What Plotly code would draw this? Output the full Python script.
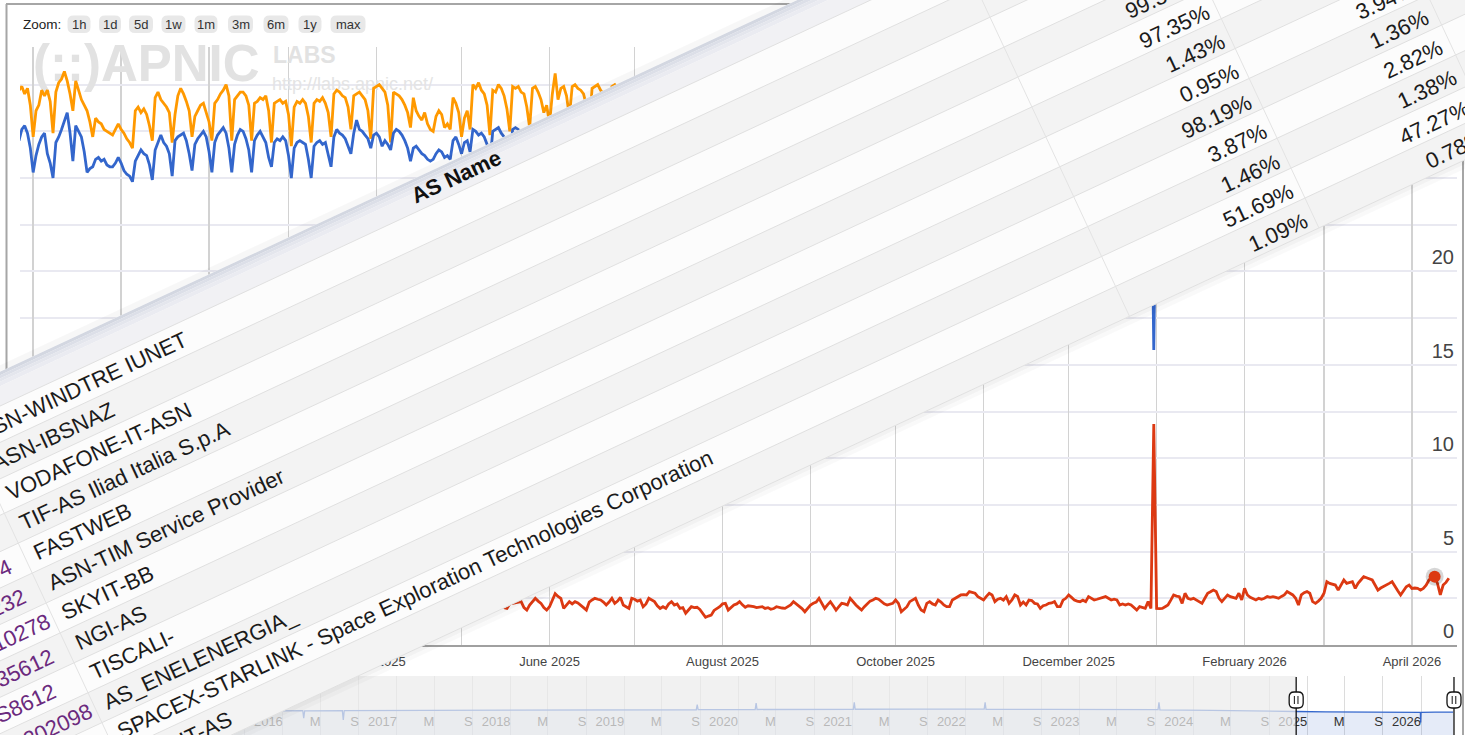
import math
import pandas as pd
import plotly.graph_objects as go

W, H = 1465, 735
FONT = "Liberation Sans, Arial, Helvetica, sans-serif"

# ======================= DATA =======================
# red series, daily from 2025-05-01
red_start = "2025-05-01"
red_vals = [
    # May
    2.0, 2.1, 1.9, 2.0, 2.2, 2.1, 2.0, 1.9, 2.1, 2.2, 2.0, 1.9, 2.1, 2.0, 2.1, 2.0,
    1.96, 2.2, 2.23, 2.25, 2.3, 2.32, 2.0, 1.87, 2.14, 2.3, 2.5, 2.35, 2.23, 2.0, 1.87,
    # Jun
    2.05, 2.4, 2.75, 2.6, 2.5, 1.96, 2.15, 2.32, 2.2, 2.32,
    2.25, 2.14, 2.0, 1.87, 2.3, 2.41, 2.5, 2.45, 2.41, 2.3,
    2.14, 2.3, 2.5, 2.23, 2.35, 2.55, 2.14, 2.05, 1.96, 2.5,
    # Jul
    2.45, 2.35, 2.41, 2.05, 2.2, 2.5, 2.4, 2.32, 2.1, 1.96,
    2.05, 1.96, 2.2, 2.32, 2.14, 2.2, 1.96, 2.0, 1.7, 1.85,
    2.05, 2.0, 2.02, 1.9, 1.7, 1.48, 1.55, 1.6, 1.85, 1.95, 2.05,
    # Aug
    2.2, 2.23, 1.87, 2.0, 2.14, 2.2, 2.32, 2.15, 2.02, 2.1,
    2.09, 2.05, 2.0, 2.02, 2.05, 1.96, 2.0, 1.91, 1.95, 2.05,
    2.0, 1.98, 1.96, 2.05, 2.14, 2.32, 2.2, 2.05, 1.95, 1.78, 1.95,
    # Sep
    2.14, 2.23, 2.3, 2.5, 2.2, 1.96, 2.15, 2.32, 2.1, 1.87,
    2.05, 2.23, 2.2, 2.14, 2.5, 2.3, 2.14, 2.0, 1.87, 2.05,
    2.23, 2.35, 2.41, 2.5, 2.45, 2.32, 2.2, 2.14, 2.2, 2.23,
    # Oct
    2.41, 2.23, 1.78, 1.9, 2.05, 2.32, 2.4, 2.5, 2.14, 1.87,
    1.78, 2.23, 2.32, 2.2, 2.14, 2.41, 2.3, 2.14, 2.05, 2.05,
    2.41, 2.5, 2.55, 2.68, 2.7, 2.68, 2.86, 2.8, 2.77, 2.59, 2.5,
    # Nov
    2.41, 2.6, 2.77, 2.68, 2.32, 2.45, 2.5, 2.4, 2.59, 2.23,
    2.41, 2.68, 2.6, 2.14, 2.3, 2.14, 2.41, 2.38, 2.23, 2.2,
    1.96, 2.1, 2.14, 2.23, 2.25, 2.32, 2.05, 2.05, 2.4, 2.5,
    # Dec
    2.68, 2.55, 2.41, 2.35, 2.32, 2.4, 2.32, 2.59, 2.5, 2.41,
    2.45, 2.5, 2.55, 2.59, 2.5, 2.41, 2.45, 2.41, 2.14, 2.2,
    2.14, 2.2, 2.14, 2.0, 1.87, 2.05, 2.0, 1.96, 2.32, 1.96, 11.83,
    # Jan 2026
    1.96, 1.95, 1.96, 2.05, 2.14, 2.4, 2.68, 2.62, 2.59, 2.23,
    2.77, 2.5, 2.45, 2.5, 2.41, 2.3, 2.23, 2.5, 2.77, 2.85,
    2.94, 2.86, 2.5, 2.32, 2.5, 2.68, 2.59, 2.55, 2.5, 2.77, 2.41,
    # Feb
    3.03, 2.68, 2.55, 2.5, 2.41, 2.5, 2.45, 2.5, 2.59, 2.55,
    2.59, 2.55, 2.5, 2.6, 2.68, 2.86, 2.75, 2.68, 2.5, 2.14,
    2.68, 2.8, 2.86, 2.77, 2.32, 2.23, 2.35, 2.5,
    # Mar
    2.77, 3.39, 3.3, 3.25, 3.21, 2.94, 3.2, 3.48, 3.3, 3.35,
    3.39, 3.03, 3.3, 3.48, 3.66, 3.6, 3.55, 3.48, 3.21, 2.94,
    3.05, 3.12, 3.2, 3.3, 3.39, 3.12, 2.9, 2.68, 2.9, 3.12, 3.21,
    # Apr
    3.03, 3.05, 3.03, 2.94, 3.03, 3.2, 3.48, 3.6, 3.66, 3.3,
    2.68, 3.21, 3.35, 3.57,
]

# orange series: daily weeks (Mon..Sun) from 2024-11-25, then sparse points
orange_start = "2024-11-25"
orange_weeks = [
    [29.6, 29.7, 29.9, 29.5, 29.8, 28.9, 27.2],
    [28.6, 28.9, 29.7, 29.4, 29.7, 29.1, 27.4],
    [29.6, 30.1, 30.3, 30.7, 30.2, 29.5, 28.6],
    [30.2, 29.7, 29.2, 28.9, 28.6, 28.0, 27.2],
    [28.2, 28.0, 27.9, 27.6, 27.5, 27.4, 27.3],
    [27.6, 27.9, 27.6, 27.4, 27.1, 26.9, 26.6],
    [28.6, 28.8, 28.5, 28.7, 28.4, 27.8, 27.0],
    [29.3, 29.6, 29.2, 29.0, 28.8, 28.5, 26.9],
    [28.4, 29.4, 29.8, 29.5, 29.1, 28.6, 27.2],
    [28.3, 28.6, 28.9, 29.0, 28.5, 28.0, 27.0],
    [29.0, 29.2, 29.5, 29.7, 30.0, 29.4, 27.0],
    [29.2, 29.4, 29.6, 29.6, 29.4, 28.9, 27.0],
    [29.0, 29.1, 29.3, 29.2, 29.4, 28.6, 26.9],
    [29.0, 29.1, 29.2, 29.0, 29.1, 28.4, 26.7],
    [28.8, 29.1, 29.0, 29.2, 29.0, 28.3, 26.9],
    [29.0, 29.2, 29.1, 29.3, 29.0, 28.5, 27.2],
    [29.5, 29.7, 29.6, 29.4, 29.3, 28.8, 27.6],
    [29.4, 29.5, 29.6, 29.4, 29.2, 28.6, 27.1],
    [29.8, 29.9, 30.0, 29.8, 29.6, 28.9, 26.9],
    [29.6, 29.5, 29.4, 29.2, 28.9, 28.5, 27.7],
    [29.3, 28.6, 28.3, 28.1, 28.5, 27.9, 27.6],
    [27.5, 28.3, 28.6, 28.4, 27.7, 27.9, 27.6],
    [29.3, 29.0, 28.5, 27.2, 28.2, 28.6, 27.6],
    [30.0, 29.8, 30.1, 29.7, 29.5, 28.9, 27.3],
    [29.7, 29.6, 30.0, 29.8, 29.4, 28.7, 27.5],
    [29.9, 29.8, 29.9, 29.6, 29.5, 28.8, 27.7],
    [29.8, 29.9, 29.6, 29.2, 28.5, 28.9, 27.9],
    [29.5, 30.6, 29.2, 29.8, 29.9, 29.4, 28.3],
    [29.9, 30.0, 29.8, 29.7, 29.5, 28.9, 27.6],
    [29.8, 29.9, 30.0, 29.7, 29.5, 28.8, 27.5],
    [29.9, 30.0, 29.8, 29.6, 29.4, 28.7, 27.4],
]
orange_tail_dates = ["2025-07-15", "2025-08-15", "2025-09-15", "2025-10-15", "2025-11-15",
                     "2025-12-15", "2026-01-15", "2026-02-15", "2026-03-15", "2026-04-14"]
orange_tail_vals = [29.5, 28.8, 29.6, 30.0, 30.2, 30.3, 30.1, 30.4, 30.6, 30.6]

# blue series
blue_start = "2024-11-25"
blue_weeks = [
    [27.2, 27.0, 27.6, 27.8, 27.4, 26.6, 25.3],
    [26.2, 26.8, 27.2, 27.4, 26.3, 25.8, 25.0],
    [26.9, 27.2, 27.6, 28.0, 28.5, 27.4, 25.9],
    [27.8, 27.5, 27.2, 26.4, 25.3, 25.5, 25.6],
    [26.0, 26.1, 25.9, 26.0, 25.7, 25.6, 25.6],
    [25.8, 26.1, 25.8, 25.4, 25.2, 25.1, 24.8],
    [25.9, 26.2, 26.5, 26.3, 26.2, 25.7, 24.9],
    [26.5, 26.9, 27.3, 26.9, 26.7, 26.3, 25.1],
    [27.0, 27.2, 27.3, 27.4, 27.0, 26.3, 25.4],
    [26.8, 27.1, 27.3, 27.5, 27.2, 26.4, 25.3],
    [26.9, 27.3, 27.5, 27.7, 27.4, 26.6, 25.3],
    [26.8, 27.3, 27.6, 27.5, 27.1, 26.5, 25.3],
    [27.0, 27.3, 27.5, 27.2, 26.9, 26.1, 25.6],
    [26.9, 27.1, 27.0, 27.2, 27.0, 26.2, 25.0],
    [26.6, 26.9, 27.0, 26.9, 26.8, 26.0, 25.0],
    [26.7, 26.9, 27.0, 26.8, 26.9, 26.2, 25.6],
    [27.2, 27.6, 27.4, 27.3, 27.1, 26.7, 26.3],
    [27.4, 28.1, 27.6, 27.5, 27.3, 27.1, 26.6],
    [27.3, 27.4, 27.2, 26.7, 27.0, 26.8, 26.5],
    [27.4, 27.6, 27.5, 27.3, 27.0, 26.6, 25.9],
    [26.6, 26.7, 26.5, 26.3, 26.2, 26.0, 25.9],
    [26.0, 26.3, 26.5, 26.4, 26.1, 26.2, 26.0],
    [27.0, 27.2, 26.8, 26.3, 26.9, 27.0, 26.4],
    [27.6, 27.5, 27.3, 27.4, 27.2, 26.8, 25.8],
    [27.5, 27.6, 27.7, 27.4, 27.2, 26.7, 25.9],
    [27.6, 27.7, 27.6, 27.4, 27.3, 26.8, 26.0],
    [27.7, 27.8, 27.5, 27.3, 27.0, 26.9, 26.2],
]
blue_tail_dates = ["2025-06-15", "2025-07-15", "2025-08-15", "2025-09-15", "2025-10-15",
                   "2025-11-15", "2025-12-15", "2025-12-30", "2025-12-31", "2026-01-01",
                   "2026-02-01", "2026-03-01", "2026-04-14"]
blue_tail_vals = [27.5, 27.3, 27.0, 27.6, 27.9, 28.0, 28.1, 27.8, 15.8, 27.6, 28.0, 28.3, 28.5]

marker_date = "2026-04-09"
marker_val = 3.66

# range navigator series
nav_dates = ["2013-09-01", "2014-01-01", "2014-06-01", "2015-01-01", "2015-06-01", "2016-01-01",
             "2016-03-05", "2016-03-08", "2016-03-11",
             "2016-07-10", "2016-07-13", "2016-07-16",
             "2016-12-01", "2017-06-01", "2018-01-01", "2018-06-01", "2019-01-01",
             "2019-08-20", "2019-08-23", "2019-08-26",
             "2020-02-25", "2020-02-28", "2020-03-02",
             "2020-09-01",
             "2021-01-05", "2021-01-08", "2021-01-11",
             "2021-08-01",
             "2022-03-01", "2022-03-04", "2022-03-07",
             "2022-10-01", "2023-04-01",
             "2023-09-10", "2023-09-13", "2023-09-16",
             "2024-03-01", "2024-09-01", "2024-11-26", "2025-03-01", "2025-06-01", "2025-09-01",
             "2025-12-30", "2025-12-31", "2026-01-01", "2026-02-15", "2026-04-14"]
nav_vals = [29, 29.5, 29.8, 30, 30.2, 30.5,
            30.4, 21, 30.3,
            30.5, 19, 30.6,
            30.8, 31, 31.2, 31.5, 31.6,
            31.7, 38, 31.8,
            31.9, 40, 32,
            32.2,
            32.3, 41, 32.3,
            32.5,
            32.4, 41, 32.3,
            32.2, 32,
            31.8, 41, 31.5,
            31, 30.5, 29.5, 29, 28.6, 28.4,
            28.3, 15.8, 28.4, 28.6, 28.8]

y_tick_vals = [0, 5, 10, 15, 20]
zoom_labels = ["1h", "1d", "5d", "1w", "1m", "3m", "6m", "1y", "max"]

as_numbers = ["AS1267", "AS3269", "AS30722", "AS29447", "AS12874", "AS16232",
              "AS210278", "AS35612", "AS8612", "AS202098", "AS14593", "AS8968"]
as_names = ["ASN-WINDTRE IUNET", "ASN-IBSNAZ", "VODAFONE-IT-ASN", "TIF-AS Iliad Italia S.p.A",
            "FASTWEB", "ASN-TIM Service Provider", "SKYIT-BB", "NGI-AS", "TISCALI-",
            "AS_ENELENERGIA_", "SPACEX-STARLINK - Space Exploration Technologies Corporation",
            "ASN-IT-AS"]
pct_col1 = ["", "", "", "99.35%", "97.35%", "1.43%", "0.95%", "98.19%", "3.87%", "1.46%", "51.69%", "1.09%"]
pct_col2 = ["", "", "", "", "", "", "3.94%", "1.36%", "2.82%", "1.38%", "47.27%", "0.78%"]

# ======================= GEOMETRY =======================
PLOT_L, PLOT_R, PLOT_T, PLOT_B = 20, 1457, 47, 645
REF_DATE = pd.Timestamp("2025-06-01")
REF_X = 549.5
PX_DAY = 2.837
PX_UNIT = 18.68


def px_to_date(px):
    return REF_DATE + pd.Timedelta(days=(px - REF_X) / PX_DAY)


def py_to_val(py):
    return (PLOT_B - py) / PX_UNIT


def ts(t):
    return pd.Timestamp(t).strftime("%Y-%m-%d %H:%M:%S")


NAV_L, NAV_R, NAV_T, NAV_B = 20, 1455, 676, 735
NAV_REF = pd.Timestamp("2026-01-01")
NAV_REF_X = 1421.0
NAV_PX_DAY = 113.8 / 365.25


def nav_px_to_date(px):
    return NAV_REF + pd.Timedelta(days=(px - NAV_REF_X) / NAV_PX_DAY)


def nav_date_to_px(d):
    return NAV_REF_X + (pd.Timestamp(d) - NAV_REF) / pd.Timedelta(days=1) * NAV_PX_DAY


def P(x, y):
    return f"{x / W:.5f},{1 - y / H:.5f}"


def poly_path(pts):
    return "M " + " L ".join(P(x, y) for x, y in pts) + " Z"


def rrect_path(x0, y0, x1, y1, r):
    return (f"M {P(x0 + r, y0)} L {P(x1 - r, y0)} Q {P(x1, y0)} {P(x1, y0 + r)} "
            f"L {P(x1, y1 - r)} Q {P(x1, y1)} {P(x1 - r, y1)} L {P(x0 + r, y1)} "
            f"Q {P(x0, y1)} {P(x0, y1 - r)} L {P(x0, y0 + r)} Q {P(x0, y0)} {P(x0 + r, y0)} Z")


def pline(x0, y0, x1, y1, color, width):
    return dict(type="line", xref="paper", yref="paper", x0=x0 / W, y0=1 - y0 / H,
                x1=x1 / W, y1=1 - y1 / H, line=dict(color=color, width=width), layer="above")


def pfill(path, color, line_color=None, line_width=0):
    return dict(type="path", xref="paper", yref="paper", path=path, fillcolor=color,
                line=dict(color=line_color or color, width=line_width), layer="above")


def ann(x, y, text, **kw):
    d = dict(x=x / W, y=1 - y / H, xref="paper", yref="paper", text=text, showarrow=False)
    d.update(kw)
    return d


# ======================= TRACES =======================
def flat(weeks):
    return [v for w in weeks for v in w]


orange_daily = flat(orange_weeks)
blue_daily = flat(blue_weeks)
orange_x = [d.strftime("%Y-%m-%d") for d in pd.date_range(orange_start, periods=len(orange_daily), freq="D")] + orange_tail_dates
orange_y = orange_daily + orange_tail_vals
blue_x = [d.strftime("%Y-%m-%d") for d in pd.date_range(blue_start, periods=len(blue_daily), freq="D")] + blue_tail_dates
blue_y = blue_daily + blue_tail_vals
red_x = [d.strftime("%Y-%m-%d") for d in pd.date_range(red_start, periods=len(red_vals), freq="D")]

fig = go.Figure()

# watermark (below the lines)
wm_px = [(33, 68), (273, 57), (272, 85)]
fig.add_trace(go.Scatter(
    x=[ts(px_to_date(x)) for x, _ in wm_px], y=[py_to_val(y) for _, y in wm_px],
    mode="text", text=["<b>(::)APNIC</b>", "<b>LABS</b>", "http://labs.apnic.net/"],
    textposition="middle right", cliponaxis=False,
    textfont=dict(size=[51, 23, 18], color=["#e2e2e2", "#e2e2e2", "#e4e4e4"], family=FONT),
    hoverinfo="skip", xaxis="x", yaxis="y"))

fig.add_trace(go.Scatter(x=orange_x, y=orange_y, mode="lines",
                         line=dict(color="#ff9900", width=2.8), hoverinfo="skip"))
fig.add_trace(go.Scatter(x=blue_x, y=blue_y, mode="lines",
                         line=dict(color="#3366cc", width=2.8), hoverinfo="skip"))
fig.add_trace(go.Scatter(x=red_x, y=red_vals, mode="lines",
                         line=dict(color="#dc3912", width=2.8), hoverinfo="skip"))
fig.add_trace(go.Scatter(x=[marker_date], y=[marker_val], mode="markers",
                         marker=dict(size=18, color="rgba(0,0,0,0.16)"), hoverinfo="skip"))
fig.add_trace(go.Scatter(x=[marker_date], y=[marker_val], mode="markers",
                         marker=dict(size=12, color="#dc3912"), hoverinfo="skip"))

# navigator
fig.add_trace(go.Scatter(x=nav_dates, y=nav_vals, mode="lines", xaxis="x2", yaxis="y2",
                         line=dict(color="#3366cc", width=1.3), fill="tozeroy",
                         fillcolor="rgba(51,102,204,0.13)", hoverinfo="skip"))

nav_tick_dates, nav_tick_text = [], []
for yr in range(2014, 2027):
    for m, lab in ((1, str(yr)), (5, "M"), (9, "S")):
        d = pd.Timestamp(yr, m, 1)
        if d <= pd.Timestamp("2026-04-30"):
            nav_tick_dates.append(d.strftime("%Y-%m-%d"))
            nav_tick_text.append(lab)

main_start = px_to_date(PLOT_L)
main_end = px_to_date(PLOT_R)

# ======================= SHAPES =======================
shapes = []
hl = nav_date_to_px(main_start)
hr = nav_date_to_px(main_end)
# unselected navigator mask
shapes.append(pfill(poly_path([(NAV_L, NAV_T), (hl, NAV_T), (hl, NAV_B), (NAV_L, NAV_B)]),
                    "rgba(236,236,236,0.72)"))
# handles
for hx in (hl, hr):
    shapes.append(pline(hx, 677, hx, 735, "#111111", 1.3))
    shapes.append(pfill(rrect_path(hx - 7, 692, hx + 7, 708, 5), "#ffffff", "#111111", 1.3))
    shapes.append(pline(hx - 1.8, 696, hx - 1.8, 704, "#111111", 1))
    shapes.append(pline(hx + 1.8, 696, hx + 1.8, 704, "#111111", 1))

# chart container border
shapes.append(pline(6, 4, 1463, 4, "#a6a6a6", 2))
shapes.append(pline(6.5, 4, 6.5, 735, "#a6a6a6", 2))
shapes.append(pline(1463, 4, 1463, 735, "#a6a6a6", 2))

# zoom pills
pill_cx = [79, 110, 141, 173.5, 206, 240.5, 276, 310, 348]
pill_w = [23, 22, 24, 24, 23, 25, 25, 23, 35]
for cx, pw in zip(pill_cx, pill_w):
    shapes.append(pfill(rrect_path(cx - pw / 2, 15.5, cx + pw / 2, 33, 6), "#e8e8e8"))

# ---- rotated table ----
ANG = math.radians(25)
C, S = math.cos(ANG), math.sin(ANG)


def qp(q, p):
    return (q * C + p * S, -q * S + p * C)


def band(q0, q1, p0, p1):
    return poly_path([qp(q0, p0), qp(q1, p0), qp(q1, p1), qp(q0, p1)])


T_TOP, HDR_H, ROW_H = 337, 31, 33
ROW0 = T_TOP + HDR_H
N_ROWS = len(as_names)
T_BOT = ROW0 + ROW_H * N_ROWS
Q_MIN, Q_MAX = -900, 2700

# faint outer shadows
shapes.append(pfill(band(Q_MIN, Q_MAX, T_TOP - 6, T_TOP), "rgba(0,0,0,0.03)"))
shapes.append(pfill(band(Q_MIN, Q_MAX, T_BOT, T_BOT + 4), "rgba(0,0,0,0.05)"))
shapes.append(pfill(band(Q_MIN, Q_MAX, T_BOT + 4, T_BOT + 8), "rgba(0,0,0,0.025)"))
# body
shapes.append(pfill(band(Q_MIN, Q_MAX, T_TOP, T_BOT), "#fcfcfc"))
for k in range(N_ROWS):
    if k % 2 == 1:
        shapes.append(pfill(band(Q_MIN, Q_MAX, ROW0 + k * ROW_H, ROW0 + (k + 1) * ROW_H), "#f3f3f3"))
# header gradient
hdr = [(0, 3, "#d3d7e1"), (3, 6, "#dcdfe8"), (6, 9, "#e4e6ed"), (9, 13, "#eaebf1"), (13, HDR_H, "#f1f1f4")]
for a, b, col in hdr:
    shapes.append(pfill(band(Q_MIN, Q_MAX, T_TOP + a, T_TOP + b), col))
# row lines
for k in range(N_ROWS + 1):
    p = ROW0 + k * ROW_H
    (x0, y0), (x1, y1) = qp(Q_MIN, p), qp(Q_MAX, p)
    shapes.append(pline(x0, y0, x1, y1, "#e0e0e0", 1))
# column lines
for q in (-330, -213, 890, 1099, 1296, 1492):
    (x0, y0), (x1, y1) = qp(q, T_TOP + 8), qp(q, T_BOT)
    shapes.append(pline(x0, y0, x1, y1, "#e3e3e3", 1))

# ======================= ANNOTATIONS =======================
anns = []
anns.append(ann(21, 24.5, "Zoom:", xanchor="left", yanchor="middle",
                font=dict(size=13.5, color="#222222", family=FONT)))
for cx, lab in zip(pill_cx, zoom_labels):
    anns.append(ann(cx, 24.5, lab, xanchor="center", yanchor="middle",
                    font=dict(size=13, color="#333333", family=FONT)))

FS = 22
HB = 25.5
Q_NUM_START, Q_NAME, Q_HDR, Q_P1, Q_P2 = -320, -202, 339, 1091, 1286


def left_text(q, pc, text, color, size=FS):
    bx, by = qp(q, pc + HB / 2)
    return ann(bx - S * HB, by, text, xanchor="left", yanchor="bottom", textangle=-25,
               borderpad=0, borderwidth=0, font=dict(size=size, color=color, family=FONT))


def right_text(q, pc, text, color, size=FS):
    rx, ry = qp(q, pc + HB / 2)
    return ann(rx, ry - C * HB, text, xanchor="right", yanchor="top", textangle=-25,
               borderpad=0, borderwidth=0, font=dict(size=size, color=color, family=FONT))


hx_, hy_ = qp(Q_HDR, T_TOP + 16)
anns.append(ann(hx_, hy_, "<b>AS Name</b>", xanchor="center", yanchor="middle", textangle=-25,
                borderpad=0, borderwidth=0, font=dict(size=FS, color="#111111", family=FONT)))
for k in range(N_ROWS):
    pc = ROW0 + k * ROW_H + ROW_H / 2
    anns.append(left_text(Q_NUM_START, pc, as_numbers[k], "#6b2a7e"))
    anns.append(left_text(Q_NAME, pc, as_names[k], "#1b1b1b"))
    if pct_col1[k]:
        anns.append(right_text(Q_P1, pc + 4, pct_col1[k], "#1b1b1b"))
    if pct_col2[k]:
        anns.append(right_text(Q_P2, pc + 3, pct_col2[k], "#1b1b1b"))

# ======================= LAYOUT =======================
fig.update_layout(
    width=W, height=H, margin=dict(l=0, r=0, t=0, b=0),
    paper_bgcolor="#ffffff", plot_bgcolor="#ffffff",
    showlegend=False, hovermode=False,
    font=dict(family=FONT, color="#444444"),
    xaxis=dict(domain=[PLOT_L / W, PLOT_R / W], anchor="y", type="date",
               range=[ts(main_start), ts(main_end)],
               tick0="2024-12-01", dtick="M2", tickformat="%B %Y", ticks="",
               showgrid=True, gridcolor="#d2d2d2", gridwidth=1.5,
               minor=dict(dtick="M1", tick0="2024-12-01", showgrid=True, gridcolor="#d2d2d2", gridwidth=1.5),
               showline=True, linecolor="#a0a0a0", linewidth=1.5, zeroline=False,
               tickfont=dict(size=13, color="#444444", family=FONT), ticklabelstandoff=4,
               fixedrange=True),
    yaxis=dict(domain=[1 - PLOT_B / H, 1 - PLOT_T / H], anchor="x", side="right",
               range=[0, (PLOT_B - PLOT_T) / PX_UNIT], tickmode="array", tickvals=y_tick_vals,
               ticklabelposition="inside top", ticks="", showgrid=True, gridcolor="#e9e9f1", gridwidth=2,
               minor=dict(dtick=2.5, tick0=0, showgrid=True, gridcolor="#e9e9f1", gridwidth=2),
               zeroline=False, tickfont=dict(size=20, color="#444444", family=FONT), fixedrange=True),
    xaxis2=dict(domain=[NAV_L / W, NAV_R / W], anchor="y2", type="date",
                range=[ts(nav_px_to_date(NAV_L)), ts(nav_px_to_date(NAV_R))],
                tickmode="array", tickvals=nav_tick_dates, ticktext=nav_tick_text,
                ticklabelposition="inside left", ticks="", showgrid=True, gridcolor="#dcdcdc",
                gridwidth=1, showline=False, zeroline=False,
                tickfont=dict(size=13, color="#333333", family=FONT), fixedrange=True),
    yaxis2=dict(domain=[0, (NAV_B - NAV_T) / H], anchor="x2", range=[0, 74], visible=False,
                fixedrange=True),
    shapes=shapes,
    annotations=anns,
)

fig.write_html("out.html", include_plotlyjs=True, full_html=True,
               config={"displayModeBar": False, "staticPlot": True},
               post_script="document.body.style.margin='0';document.body.style.overflow='hidden';")
